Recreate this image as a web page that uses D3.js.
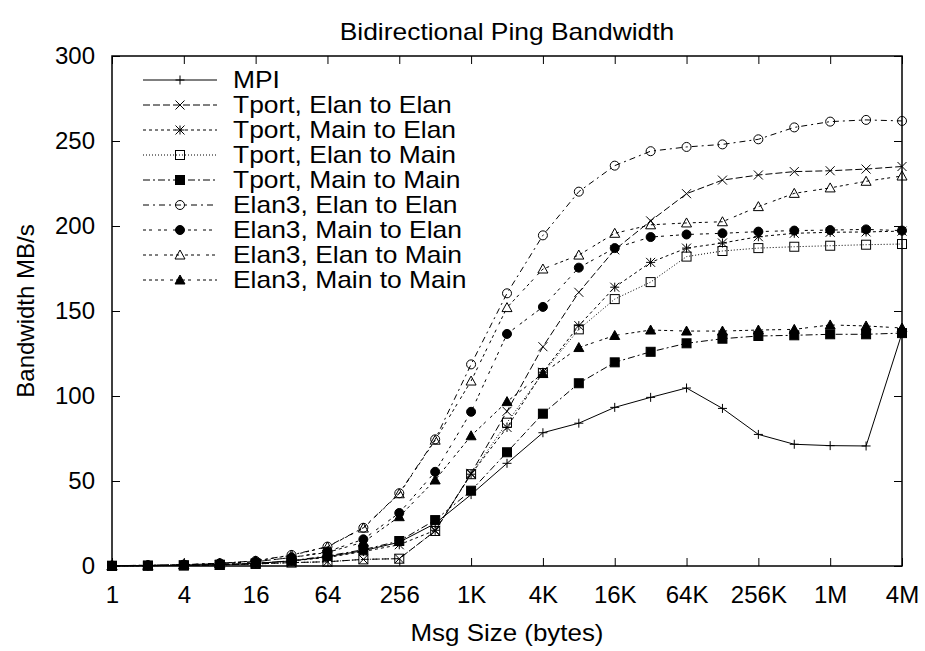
<!DOCTYPE html>
<html>
<head>
<meta charset="utf-8">
<script src="https://cdn.jsdelivr.net/npm/d3@7"></script>
<style>
  body { margin: 0; background: #fff; }
  text { font-family: "Liberation Sans", Arial, Helvetica, sans-serif; fill: #000; }
</style>
</head>
<body>
<div id="chart"></div>
<script>
// Message sizes (bytes), one point per power of two
const msgSizes = [1, 2, 4, 8, 16, 32, 64, 128, 256, 512, 1024, 2048, 4096, 8192,
  16384, 32768, 65536, 131072, 262144, 524288, 1048576, 2097152, 4194304];

const xTickValues = [1, 4, 16, 64, 256, 1024, 4096, 16384, 65536, 262144, 1048576, 4194304];
const xTickLabels = ['1', '4', '16', '64', '256', '1K', '4K', '16K', '64K', '256K', '1M', '4M'];
const yTickValues = [0, 50, 100, 150, 200, 250, 300];

// Bandwidth MB/s
const mpi = [0.1, 0.2, 0.4, 0.8, 1.5, 3, 5.5, 9, 14, 25, 42, 60.4, 78.4, 84, 93.3, 99.2, 104.7, 92.7, 77.4, 71.6, 70.8, 70.6, 137];
const tportElanElan = [0.1, 0.2, 0.3, 0.6, 1.2, 2, 2.5, 3.9, 4.3, 20.6, 54.5, 91, 129, 161, 186, 203, 219, 227, 230, 232, 232.5, 233.5, 235];
const tportMainElan = [0.1, 0.2, 0.4, 0.8, 1.5, 3, 5, 8.5, 12.5, 21, 54, 81.5, 114, 141.4, 164, 178.6, 187, 190, 193.7, 195.7, 196.3, 196.5, 197];
const tportElanMain = [0.1, 0.2, 0.3, 0.6, 1.2, 2, 2.5, 3.9, 4.3, 20.6, 54, 84.3, 113.5, 139.2, 157, 167, 182, 185.3, 187, 187.8, 188.4, 189, 189.4];
const tportMainMain = [0.1, 0.2, 0.4, 0.8, 1.5, 3.1, 5.9, 9.6, 14.7, 27, 44.3, 66.9, 89.6, 107.5, 119.8, 126, 131, 133.7, 135.3, 135.7, 136.3, 136.3, 137];
const elanElanElan = [0.2, 0.4, 0.8, 1.6, 3, 6.5, 11.4, 22.5, 42.8, 74.5, 118.6, 160.4, 194.5, 220.2, 235.5, 244, 246.5, 248, 251, 258, 261.4, 262.4, 261.8];
const elanMainElan = [0.2, 0.4, 0.7, 1.4, 2.5, 5, 8.5, 15.7, 31.2, 55.4, 90.7, 136.5, 152.4, 175.5, 187, 193.5, 195, 195.7, 196.7, 197.3, 197.6, 198, 197.3];
const elanElanMain = [0.2, 0.4, 0.8, 1.6, 3, 6.3, 11.2, 22.3, 42.5, 74, 108.8, 152, 174.7, 182.9, 195.7, 200.7, 201.8, 202.5, 211.4, 219.2, 222.4, 226.3, 229.4];
const elanMainMain = [0.2, 0.4, 0.7, 1.4, 2.5, 5, 8, 14, 29, 50.6, 76.6, 96.7, 113.3, 128.5, 135.6, 138.8, 138.2, 138.2, 138.8, 139.2, 141.8, 141.2, 140];

const seriesNames = ['MPI', 'Tport, Elan to Elan', 'Tport, Main to Elan', 'Tport, Elan to Main',
  'Tport, Main to Main', 'Elan3, Elan to Elan', 'Elan3, Main to Elan', 'Elan3, Elan to Main', 'Elan3, Main to Main'];
const seriesValues = [mpi, tportElanElan, tportMainElan, tportElanMain, tportMainMain,
  elanElanElan, elanMainElan, elanElanMain, elanMainMain];

// gnuplot-ish line types and point types
const dashes = ['none', '7,3', '3,3', '1,2', '7,3,2,3', '6,4,2,4', '3,3,3,6', '3,3,3,3,3,6', '3,3,3,3,3,3,3,6'];
const markers = ['plus', 'x', 'star', 'box', 'boxF', 'circle', 'circleF', 'tri', 'triF'];

const W = 925, H = 651;
const margin = { top: 56, right: 23, bottom: 85, left: 112 };

const svg = d3.select('#chart').append('svg')
  .attr('width', W)
  .attr('height', H);

const x = d3.scaleLog().base(2)
  .domain([1, 4194304])
  .range([margin.left, W - margin.right]);
const y = d3.scaleLinear()
  .domain([0, 300])
  .range([H - margin.bottom, margin.top]);

// the postscript font is a bit wider than Liberation Sans
function stretch(sel, f) {
  sel.each(function () {
    const w = this.getComputedTextLength();
    d3.select(this).attr('textLength', w * f).attr('lengthAdjust', 'spacingAndGlyphs');
  });
}

// draw one point symbol
function drawMarker(g, type, cx, cy) {
  const s = 4.5;
  if (type === 'plus') {
    g.append('path').attr('d', `M${cx - s},${cy}H${cx + s}M${cx},${cy - s}V${cy + s}`)
      .attr('stroke', '#000').attr('stroke-width', 1);
  } else if (type === 'x') {
    g.append('path').attr('d', `M${cx - s},${cy - s}L${cx + s},${cy + s}M${cx - s},${cy + s}L${cx + s},${cy - s}`)
      .attr('stroke', '#000').attr('stroke-width', 1);
  } else if (type === 'star') {
    g.append('path').attr('d', `M${cx - s},${cy}H${cx + s}M${cx},${cy - s}V${cy + s}M${cx - s},${cy - s}L${cx + s},${cy + s}M${cx - s},${cy + s}L${cx + s},${cy - s}`)
      .attr('stroke', '#000').attr('stroke-width', 1);
  } else if (type === 'box' || type === 'boxF') {
    g.append('rect').attr('x', cx - 4.5).attr('y', cy - 4.5).attr('width', 9).attr('height', 9)
      .attr('fill', type === 'boxF' ? '#000' : 'none').attr('stroke', '#000').attr('stroke-width', 1);
  } else if (type === 'circle' || type === 'circleF') {
    g.append('circle').attr('cx', cx).attr('cy', cy).attr('r', 4.5)
      .attr('fill', type === 'circleF' ? '#000' : 'none').attr('stroke', '#000').attr('stroke-width', 1);
  } else {
    g.append('path').attr('d', `M${cx},${cy - 5}L${cx + 5},${cy + 4}L${cx - 5},${cy + 4}Z`)
      .attr('fill', type === 'triF' ? '#000' : 'none').attr('stroke', '#000').attr('stroke-width', 1);
  }
}

// Axes: ticks inward, mirrored on top and right
const fontSize = 24;
svg.append('g')
  .attr('transform', `translate(0,${y(0)})`)
  .call(d3.axisBottom(x).tickValues(xTickValues).tickFormat((d, i) => xTickLabels[i])
    .tickSizeInner(-8).tickSizeOuter(0).tickPadding(20));
svg.append('g')
  .attr('transform', `translate(0,${y(300)})`)
  .call(d3.axisTop(x).tickValues(xTickValues).tickFormat('').tickSizeInner(-8).tickSizeOuter(0));
svg.append('g')
  .attr('transform', `translate(${x(1)},0)`)
  .call(d3.axisLeft(y).tickValues(yTickValues).tickSizeInner(-8).tickSizeOuter(0).tickPadding(17));
svg.append('g')
  .attr('transform', `translate(${x(4194304)},0)`)
  .call(d3.axisRight(y).tickValues(yTickValues).tickFormat('').tickSizeInner(-8).tickSizeOuter(0));

svg.selectAll('.domain').remove();
svg.selectAll('.tick line').attr('stroke', '#000');
svg.selectAll('.tick text').style('font-size', fontSize + 'px').attr('fill', '#000');

// Frame
svg.append('rect')
  .attr('x', x(1)).attr('y', y(300))
  .attr('width', x(4194304) - x(1)).attr('height', y(0) - y(300))
  .attr('fill', 'none').attr('stroke', '#000').attr('stroke-width', 1.5);

// Lines and points
const line = d3.line()
  .x((d, i) => x(msgSizes[i]))
  .y((d) => y(d));

seriesValues.forEach(function (vals, s) {
  svg.append('path')
    .datum(vals)
    .attr('d', line)
    .attr('fill', 'none')
    .attr('stroke', '#000')
    .attr('stroke-width', 1)
    .attr('stroke-dasharray', dashes[s]);
  const pts = svg.append('g');
  vals.forEach(function (v, i) {
    drawMarker(pts, markers[s], x(msgSizes[i]), y(v));
  });
});

// Legend
const legend = svg.append('g');
seriesNames.forEach(function (name, i) {
  const ly = 80 + i * 25;
  legend.append('line')
    .attr('x1', 143).attr('x2', 217).attr('y1', ly).attr('y2', ly)
    .attr('stroke', '#000').attr('stroke-width', 1)
    .attr('stroke-dasharray', dashes[i]);
  drawMarker(legend, markers[i], 180, ly);
  legend.append('text')
    .attr('class', 'legend-label')
    .attr('x', 233).attr('y', ly)
    .attr('dy', '0.35em')
    .style('font-size', fontSize + 'px')
    .text(name);
});
stretch(svg.selectAll('.legend-label'), 1.1);

// Titles
const title = svg.append('text')
  .attr('x', (x(1) + x(4194304)) / 2).attr('y', 32)
  .attr('text-anchor', 'middle').attr('dy', '0.35em')
  .style('font-size', fontSize + 'px')
  .text('Bidirectional Ping Bandwidth');
stretch(title, 1.1);

const xTitle = svg.append('text')
  .attr('x', (x(1) + x(4194304)) / 2).attr('y', 633)
  .attr('text-anchor', 'middle').attr('dy', '0.35em')
  .style('font-size', fontSize + 'px')
  .text('Msg Size (bytes)');
stretch(xTitle, 1.08);

svg.append('text')
  .attr('transform', `translate(26,${(y(0) + y(300)) / 2}) rotate(-90)`)
  .attr('text-anchor', 'middle').attr('dy', '0.35em')
  .style('font-size', fontSize + 'px')
  .text('Bandwidth MB/s');
</script>
</body>
</html>
